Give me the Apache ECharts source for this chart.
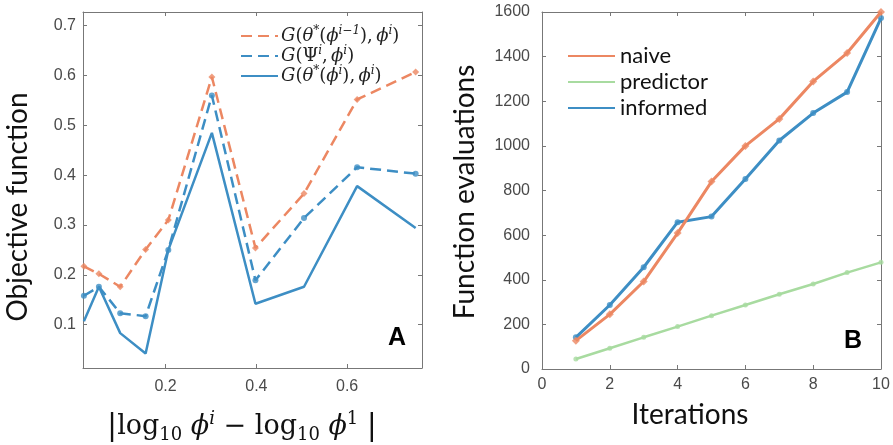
<!DOCTYPE html>
<html>
<head>
<meta charset="utf-8">
<script src="https://cdn.jsdelivr.net/npm/echarts@6/dist/echarts.min.js"></script>
<style>
  html, body { margin: 0; padding: 0; background: #fff; }
  #chart { width: 893px; height: 445px; }
</style>
</head>
<body>
<div id="chart"></div>
<script>
// ---- panel A data ----
const phiDiff = [0.02, 0.053, 0.1, 0.156, 0.206, 0.302, 0.398, 0.505, 0.622, 0.751];
const objPrev = [0.217, 0.202, 0.176, 0.251, 0.31, 0.597, 0.254, 0.363, 0.552, 0.607];
const objPsi = [0.158, 0.176, 0.123, 0.117, 0.25, 0.56, 0.189, 0.314, 0.416, 0.403];
const objOpt = [0.107, 0.176, 0.083, 0.042, 0.25, 0.485, 0.142, 0.176, 0.378, 0.294];
const ticksA_x = [0.2, 0.4, 0.6];
const ticksA_y = [0.1, 0.2, 0.3, 0.4, 0.5, 0.6, 0.7];

// ---- panel B data ----
const iterations = [1, 2, 3, 4, 5, 6, 7, 8, 9, 10];
const naive = [127, 245, 392, 609, 840, 1000, 1121, 1289, 1416, 1600];
const predictor = [45, 93, 142, 190, 239, 287, 335, 381, 432, 478];
const informed = [142, 287, 456, 658, 683, 852, 1024, 1147, 1241, 1573];

const ORANGE = '#ec8762';
const BLUE = '#3d8ec4';
const GREEN = '#a8dba0';
const AXIS = '#777';
const LABEL = '#4a4a4a';

const pairs = (xs, ys) => xs.map((x, i) => [x, ys[i]]);

const chart = echarts.init(document.getElementById('chart'));

// box axis helper (matlab style: ticks inside, on all sides)
function boxAxis(extra, showLabel) {
  return Object.assign({
    type: 'value',
    splitLine: { show: false },
    axisLine: { show: true, onZero: false, lineStyle: { color: AXIS, width: 1 } },
    axisTick: { show: true, inside: true, length: 4, lineStyle: { color: AXIS } },
    axisLabel: {
      show: showLabel,
      color: LABEL,
      fontFamily: 'Liberation Sans',
      fontSize: 16,
    },
  }, extra);
}

const serif = 'DejaVu Serif';
const mathRich = {
  i: { fontFamily: serif, fontStyle: 'italic', fontSize: 18, color: '#222', lineHeight: 22 },
  r: { fontFamily: serif, fontSize: 18, color: '#222', lineHeight: 22 },
  s: { fontFamily: serif, fontStyle: 'italic', fontSize: 12, color: '#222', verticalAlign: 'top', lineHeight: 12 },
};
const legendLabels = {
  prev: '{i|G}{r|(}{i|θ}{s|*}{r|(}{i|ϕ}{s|i−1}{r|),} {i|ϕ}{s|i}{r|)}',
  psi: '{i|G}{r|(Ψ}{s|i}{r|,} {i|ϕ}{s|i}{r|)}',
  opt: '{i|G}{r|(}{i|θ}{s|*}{r|(}{i|ϕ}{s|i}{r|),} {i|ϕ}{s|i}{r|)}',
};

const option = {
  animation: false,
  backgroundColor: '#fff',
  grid: [
    { left: 83, top: 12, width: 339, height: 356 },
    { left: 542, top: 12, width: 339, height: 357 },
  ],
  xAxis: [
    boxAxis({
      gridIndex: 0, position: 'bottom', min: 0.018, max: 0.765,
      axisLabel: { show: true, color: LABEL, fontFamily: 'Liberation Sans', fontSize: 16, margin: 11, customValues: ticksA_x },
      axisTick: { show: true, inside: true, length: 4, lineStyle: { color: AXIS }, customValues: ticksA_x },
    }, true),
    boxAxis({
      gridIndex: 0, position: 'top', min: 0.018, max: 0.765,
      axisTick: { show: true, inside: true, length: 4, lineStyle: { color: AXIS }, customValues: ticksA_x },
    }, false),
    boxAxis({ gridIndex: 1, position: 'bottom', min: 0, max: 10, interval: 2 }, true),
    boxAxis({ gridIndex: 1, position: 'top', min: 0, max: 10, interval: 2 }, false),
  ],
  yAxis: [
    boxAxis({
      gridIndex: 0, position: 'left', min: 0.013, max: 0.7275,
      axisLabel: { show: true, color: LABEL, fontFamily: 'Liberation Sans', fontSize: 16, margin: 7, customValues: ticksA_y },
      axisTick: { show: true, inside: true, length: 4, lineStyle: { color: AXIS }, customValues: ticksA_y },
    }, true),
    boxAxis({
      gridIndex: 0, position: 'right', min: 0.013, max: 0.7275,
      axisTick: { show: true, inside: true, length: 4, lineStyle: { color: AXIS }, customValues: ticksA_y },
    }, false),
    boxAxis({
      gridIndex: 1, position: 'left', min: 0, max: 1600, interval: 200,
      axisLabel: { show: true, color: LABEL, fontFamily: 'Liberation Sans', fontSize: 16, margin: 12, formatter: (v) => String(v) },
    }, true),
    boxAxis({ gridIndex: 1, position: 'right', min: 0, max: 1600, interval: 200 }, false),
  ],
  legend: [
    {
      data: ['prev', 'psi', 'opt'],
      left: 235, top: 20,
      orient: 'vertical',
      itemWidth: 37, itemHeight: 10, itemGap: 0,
      itemStyle: { opacity: 0 },
      formatter: (name) => legendLabels[name],
      textStyle: { rich: mathRich, padding: [0, 0, 0, -2] },
    },
    {
      data: ['naive', 'predictor', 'informed'],
      left: 562, top: 40,
      orient: 'vertical',
      itemWidth: 47, itemHeight: 10, itemGap: 4,
      itemStyle: { opacity: 0 },
      textStyle: { fontFamily: 'Lato', fontSize: 22, color: '#111' },
    },
  ],
  series: [
    // panel A
    { name: 'prev', type: 'line', xAxisIndex: 0, yAxisIndex: 0, symbol: 'none',
      data: pairs(phiDiff, objPrev), lineStyle: { color: ORANGE, width: 2.5, type: [11, 6] }, itemStyle: { color: ORANGE } },
    { type: 'scatter', xAxisIndex: 0, yAxisIndex: 0, symbol: 'diamond', symbolSize: 7,
      data: pairs(phiDiff, objPrev), itemStyle: { color: ORANGE } },
    { name: 'psi', type: 'line', xAxisIndex: 0, yAxisIndex: 0, symbol: 'none',
      data: pairs(phiDiff, objPsi), lineStyle: { color: BLUE, width: 2.5, type: [11, 6] }, itemStyle: { color: BLUE } },
    { type: 'scatter', xAxisIndex: 0, yAxisIndex: 0, symbol: 'circle', symbolSize: 6,
      data: pairs(phiDiff, objPsi), itemStyle: { color: BLUE } },
    { name: 'opt', type: 'line', xAxisIndex: 0, yAxisIndex: 0, symbol: 'none',
      data: pairs(phiDiff, objOpt), lineStyle: { color: BLUE, width: 2.5 }, itemStyle: { color: BLUE } },

    // panel B
    { name: 'informed', type: 'line', xAxisIndex: 2, yAxisIndex: 2, symbol: 'none', z: 2,
      data: pairs(iterations, informed), lineStyle: { color: BLUE, width: 3 }, itemStyle: { color: BLUE } },
    { type: 'scatter', xAxisIndex: 2, yAxisIndex: 2, symbol: 'circle', symbolSize: 6, z: 2,
      data: pairs(iterations, informed), itemStyle: { color: BLUE } },
    { name: 'predictor', type: 'line', xAxisIndex: 2, yAxisIndex: 2, symbol: 'none', z: 2,
      data: pairs(iterations, predictor), lineStyle: { color: GREEN, width: 2.5 }, itemStyle: { color: GREEN } },
    { type: 'scatter', xAxisIndex: 2, yAxisIndex: 2, symbol: 'circle', symbolSize: 5, z: 2,
      data: pairs(iterations, predictor), itemStyle: { color: GREEN } },
    { name: 'naive', type: 'line', xAxisIndex: 2, yAxisIndex: 2, symbol: 'none', z: 3,
      data: pairs(iterations, naive), lineStyle: { color: ORANGE, width: 3 }, itemStyle: { color: ORANGE } },
    { type: 'scatter', xAxisIndex: 2, yAxisIndex: 2, symbol: 'diamond', symbolSize: 8, z: 3,
      data: pairs(iterations, naive), itemStyle: { color: ORANGE } },
  ],
  graphic: [
    // axis titles
    { type: 'text', x: 18, y: 207, rotation: Math.PI / 2,
      style: { text: 'Objective function', font: '28px Lato', fill: '#111', align: 'center', verticalAlign: 'middle' } },
    { type: 'text', x: 465, y: 192, rotation: Math.PI / 2,
      style: { text: 'Function evaluations', font: '28px Lato', fill: '#111', align: 'center', verticalAlign: 'middle' } },
    { type: 'text', x: 690, y: 415,
      style: { text: 'Iterations', font: '28px Lato', fill: '#111', align: 'center', verticalAlign: 'middle' } },
    { type: 'text', x: 242, y: 427,
      style: {
        text: '{b||}{r|log}{d|10}{r| }{i|ϕ}{u|i}{r| − log}{d|10}{r| }{i|ϕ}{n|1}{r| }{b||}',
        align: 'center', verticalAlign: 'middle',
        rich: {
          r: { fontFamily: serif, fontSize: 27, fill: '#111', lineHeight: 34 },
          b: { fontFamily: serif, fontSize: 30, fill: '#111', lineHeight: 34 },
          i: { fontFamily: serif, fontStyle: 'italic', fontSize: 27, fill: '#111', lineHeight: 34 },
          u: { fontFamily: serif, fontStyle: 'italic', fontSize: 18, fill: '#111', verticalAlign: 'top', lineHeight: 14 },
          n: { fontFamily: serif, fontSize: 18, fill: '#111', verticalAlign: 'top', lineHeight: 14 },
          d: { fontFamily: serif, fontSize: 18, fill: '#111', verticalAlign: 'bottom', lineHeight: 14 },
        },
      } },
    // panel labels
    { type: 'text', x: 397, y: 338,
      style: { text: 'A', font: 'bold 25px Liberation Sans', fill: '#000', align: 'center', verticalAlign: 'middle' } },
    { type: 'text', x: 853, y: 341,
      style: { text: 'B', font: 'bold 25px Liberation Sans', fill: '#000', align: 'center', verticalAlign: 'middle' } },
  ],
};

chart.setOption(option);
</script>
</body>
</html>
